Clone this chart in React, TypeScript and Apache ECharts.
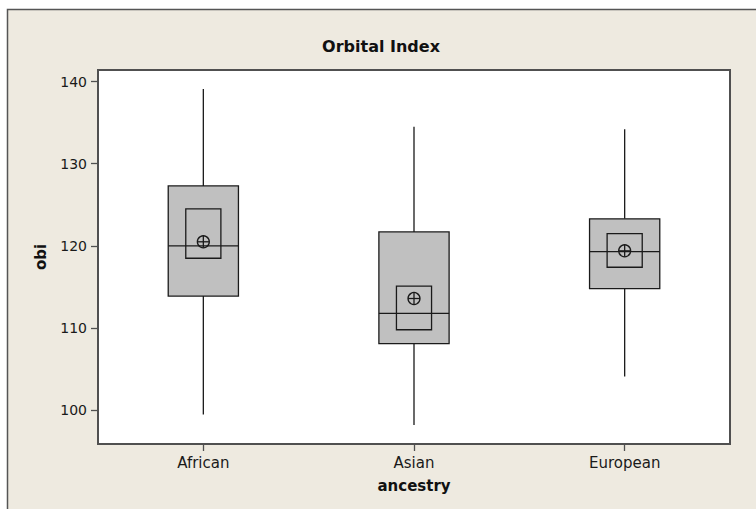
import React, { useEffect, useRef } from "react";
import * as echarts from "echarts";

const categories = ["African", "Asian", "European"];
const whiskerLow = [99.5, 98.2, 104.1];
const q1 = [113.9, 108.1, 114.8];
const median = [120.0, 111.8, 119.3];
const q3 = [127.3, 121.7, 123.3];
const whiskerHigh = [139.1, 134.5, 134.2];
const ciLow = [118.5, 109.8, 117.4];
const ciHigh = [124.5, 115.1, 121.5];
const mean = [120.5, 113.6, 119.4];
const yTicks = [100, 110, 120, 130, 140];

const FONT = "'DejaVu Sans', Verdana, sans-serif";
const LINE = "#1a1a1a";

export default function App() {
  const ref = useRef<HTMLDivElement>(null);
  useEffect(() => {
    document.body.style.margin = "0";
    const chart = echarts.init(ref.current!, null, { renderer: "svg" });
    const data = categories.map((_, i) => [
      i,
      whiskerLow[i],
      q1[i],
      median[i],
      q3[i],
      whiskerHigh[i],
      ciLow[i],
      ciHigh[i],
      mean[i],
    ]);
    const renderItem = (params: any, api: any) => {
      const idx = api.value(0);
      const band = api.size([1, 0])[0];
      const bw = band / 3;
      const cw = band / 6;
      const pLow = api.coord([idx, api.value(1)]);
      const pQ1 = api.coord([idx, api.value(2)]);
      const pMed = api.coord([idx, api.value(3)]);
      const pQ3 = api.coord([idx, api.value(4)]);
      const pHigh = api.coord([idx, api.value(5)]);
      const pCiL = api.coord([idx, api.value(6)]);
      const pCiH = api.coord([idx, api.value(7)]);
      const pMean = api.coord([idx, api.value(8)]);
      const x = pMed[0];
      const ls = { stroke: LINE, lineWidth: 1.3, fill: "none" };
      const r = 6;
      return {
        type: "group",
        children: [
          { type: "line", shape: { x1: x, y1: pHigh[1], x2: x, y2: pQ3[1] }, style: ls },
          { type: "line", shape: { x1: x, y1: pQ1[1], x2: x, y2: pLow[1] }, style: ls },
          {
            type: "rect",
            shape: { x: x - bw / 2, y: pQ3[1], width: bw, height: pQ1[1] - pQ3[1] },
            style: { fill: "#c0c0c0", stroke: LINE, lineWidth: 1.3 },
          },
          {
            type: "rect",
            shape: { x: x - cw / 2, y: pCiH[1], width: cw, height: pCiL[1] - pCiH[1] },
            style: ls,
          },
          { type: "line", shape: { x1: x - bw / 2, y1: pMed[1], x2: x + bw / 2, y2: pMed[1] }, style: ls },
          { type: "circle", shape: { cx: x, cy: pMean[1], r }, style: ls },
          { type: "line", shape: { x1: x - r, y1: pMean[1], x2: x + r, y2: pMean[1] }, style: ls },
          { type: "line", shape: { x1: x, y1: pMean[1] - r, x2: x, y2: pMean[1] + r }, style: ls },
        ],
      };
    };
    chart.setOption({
      animation: false,
      backgroundColor: "#ffffff",
      graphic: [
        {
          type: "rect",
          z: -100,
          shape: { x: 7.5, y: 9.5, width: 820, height: 620 },
          style: { fill: "#eeeae0", stroke: "#555555", lineWidth: 1.5 },
          silent: true,
        },
        {
          type: "text",
          x: 381,
          y: 46,
          style: {
            text: "Orbital Index",
            font: `bold 16px ${FONT}`,
            fill: "#111",
            textAlign: "center",
            textVerticalAlign: "middle",
          },
        },
      ],
      grid: {
        left: 98,
        top: 70,
        right: 26,
        bottom: 65,
        show: true,
        backgroundColor: "#ffffff",
        borderColor: "#505050",
        borderWidth: 2,
      },
      xAxis: {
        type: "category",
        data: categories,
        boundaryGap: true,
        axisLine: { show: false },
        axisTick: { show: true, alignWithLabel: true, length: 7, inside: false, lineStyle: { color: "#505050", width: 1.3 } },
        axisLabel: { fontFamily: FONT, fontSize: 15, color: "#1a1a1a", margin: 11 },
        splitLine: { show: false },
        name: "ancestry",
        nameLocation: "middle",
        nameGap: 34,
        nameTextStyle: { fontFamily: FONT, fontSize: 15, fontWeight: "bold", color: "#111" },
      },
      yAxis: {
        type: "value",
        min: 95.9,
        max: 141.4,
        axisLine: { show: false },
        axisTick: { show: true, length: 7, customValues: yTicks, lineStyle: { color: "#505050", width: 1.3 } },
        axisLabel: { fontFamily: FONT, fontSize: 14, color: "#1a1a1a", margin: 11, customValues: yTicks },
        splitLine: { show: false },
        name: "obi",
        nameLocation: "middle",
        nameGap: 50,
        nameTextStyle: { fontFamily: FONT, fontSize: 15, fontWeight: "bold", color: "#111" },
      },
      series: [
        {
          type: "custom",
          renderItem,
          data,
          encode: { x: 0, y: [1, 2, 3, 4, 5, 6, 7, 8] },
          clip: false,
        },
      ],
    });
    return () => chart.dispose();
  }, []);
  return <div ref={ref} style={{ width: 756, height: 509 }} />;
}
